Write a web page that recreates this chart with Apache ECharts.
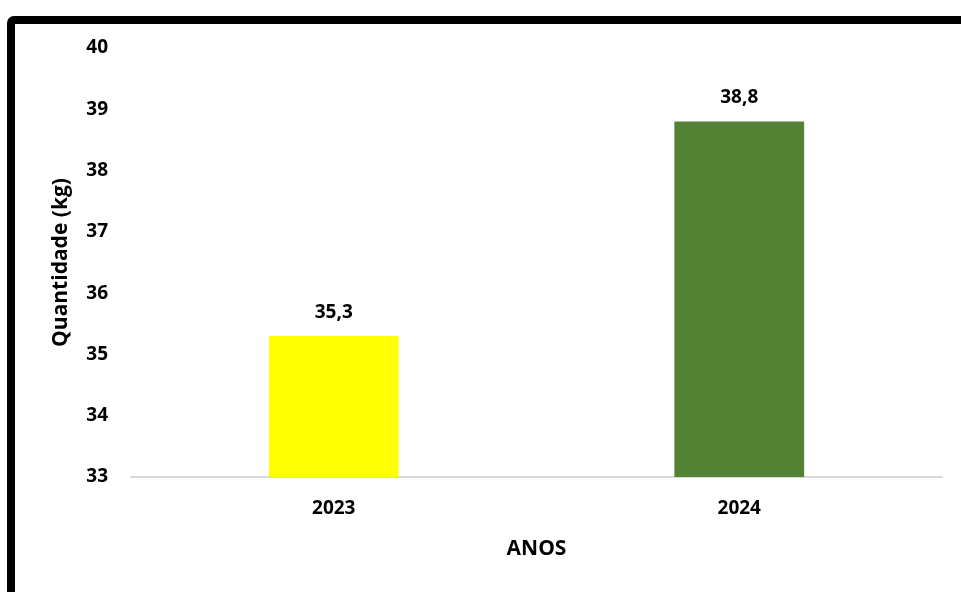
<!DOCTYPE html>
<html>
<head>
<meta charset="utf-8">
<script src="https://cdn.jsdelivr.net/npm/echarts@6/dist/echarts.min.js"></script>
<style>
  html, body { margin: 0; padding: 0; background: #fff; }
  #chart { width: 961px; height: 592px; }
</style>
</head>
<body>
<div id="chart"></div>
<script>
// dados
const anos = ['2023', '2024']
const quantidade = [35.3, 38.8]
const cores = ['#FFFF00', '#548235']

const FONT = '"Open Sans", Lato, sans-serif'

const chart = echarts.init(document.getElementById('chart'))

const option = {
	animation: false,
	textStyle: { fontFamily: FONT },
	graphic: [
		// moldura preta (sai pela direita e por baixo)
		{
			type: 'rect',
			shape: { x: 11, y: 20, width: 1100, height: 800, r: 3 },
			style: { fill: 'none', stroke: '#000', lineWidth: 8 },
			silent: true,
			z: 100,
		},
	],
	grid: { left: 131, right: 19, top: 48, bottom: 115 },
	xAxis: {
		type: 'category',
		data: anos,
		name: 'ANOS',
		nameLocation: 'middle',
		nameGap: 62,
		nameTextStyle: { fontSize: 21, fontWeight: 'bold', color: '#000', fontFamily: FONT },
		axisLine: { lineStyle: { color: '#d9d9d9', width: 2 } },
		axisTick: { show: false },
		axisLabel: { fontSize: 19, fontWeight: 'bold', color: '#000', margin: 22, fontFamily: FONT },
	},
	yAxis: {
		type: 'value',
		min: 33,
		max: 40,
		interval: 1,
		name: 'Quantidade (kg)',
		nameLocation: 'middle',
		nameGap: 59,
		nameRotate: 90,
		nameTextStyle: { fontSize: 21, fontWeight: 'bold', color: '#000', fontFamily: FONT },
		axisLine: { show: false },
		axisTick: { show: false },
		splitLine: { show: false },
		axisLabel: { fontSize: 19, fontWeight: 'bold', color: '#000', margin: 23, padding: [4, 0, 0, 0], fontFamily: FONT },
	},
	series: [
		{
			type: 'bar',
			barWidth: '32%',
			data: quantidade.map((v, i) => ({ value: v, itemStyle: { color: cores[i] } })),
			label: {
				show: true,
				position: 'top',
				distance: 14,
				fontSize: 19,
				fontWeight: 'bold',
				color: '#000',
				fontFamily: FONT,
				formatter: p => String(p.value).replace('.', ','),
			},
		},
	],
}

chart.setOption(option)
</script>
</body>
</html>
